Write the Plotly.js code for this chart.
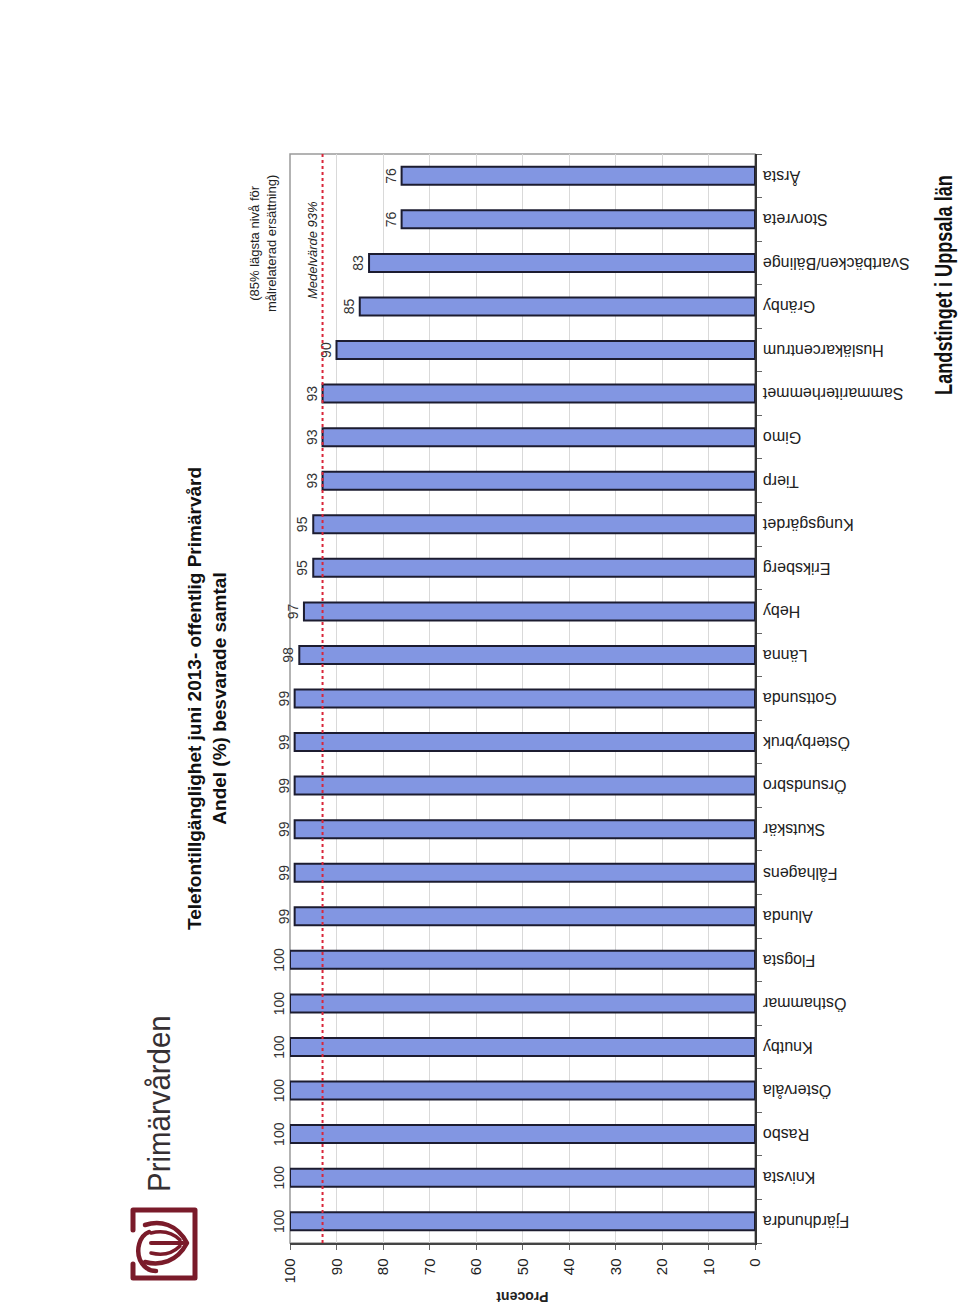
<!DOCTYPE html>
<html>
<head>
<meta charset="utf-8">
<script src="https://cdn.plot.ly/plotly-3.0.1.min.js"></script>
<style>
  html, body { margin:0; padding:0; background:#fff; width:960px; height:1308px; overflow:hidden; }
  #wrap { position:absolute; left:0; top:0; width:1308px; height:960px;
          transform-origin:0 0; transform:translateY(1308px) rotate(-90deg); }
  #chart { position:absolute; left:0; top:0; width:1308px; height:960px; }
  #logo { position:absolute; left:125px; top:1200px; width:80px; height:85px; }
  .brand { position:absolute; white-space:nowrap; line-height:1;
           font-family:'Liberation Sans', Arial, Helvetica, sans-serif; }
  #brandTop { left:116px; top:159px; font-size:32px; color:#363033;
              transform-origin:0 50%; transform:translateY(-50%) scaleX(0.92); }
  #brandBottom { left:1023px; top:944px; font-size:24px; font-weight:bold; color:#111;
                 transform-origin:50% 50%; transform:translate(-50%,-50%) scaleX(0.756); }
</style>
</head>
<body>
<div id="wrap">
  <div id="chart"></div>
  <div id="brandTop" class="brand"></div>
  <div id="brandBottom" class="brand"></div>
</div>
<svg id="logo" viewBox="0 0 80 85" xmlns="http://www.w3.org/2000/svg">
  <g fill="none" stroke="#7a1b2a" stroke-linecap="round" stroke-linejoin="round">
    <path d="M 8 30 L 8 10 L 70 10 L 70 78 L 8 78 L 8 64" stroke-width="5"/>
    <path d="M 20 25 C 35 20, 52 24, 62 43 C 52 62, 35 66, 20 62" stroke-width="4.5"/>
    <path d="M 26 43 L 58 43" stroke-width="4"/>
    <path d="M 26 33 C 38 30, 48 33, 55 40" stroke-width="3.5"/>
    <path d="M 26 53 C 38 56, 48 53, 55 46" stroke-width="3.5"/>
    <path d="M 24 32 C 14 36, 11 50, 15 60 C 19 68, 25 71, 31 71" stroke-width="4.5"/>
  </g>
</svg>
<script>
// ---- data ----
const categories = [
  'Fjärdhundra','Knivsta','Rasbo','Östervåla','Knutby','Östhammar','Flogsta',
  'Alunda','Fålhagens','Skutskär','Örsundsbro','Österbybruk','Gottsunda','Länna',
  'Heby','Eriksberg','Kungsgärdet','Tierp','Gimo','Sammariterhemmet',
  'Husläkarcentrum','Gränby','Svartbäcken/Bälinge','Storvreta','Årsta'
];
const values = [
  100,100,100,100,100,100,100,
  99,99,99,99,99,99,98,
  97,95,95,93,93,93,
  90,85,83,76,76
];
const meanValue = 93;
const valueTicks = [0,10,20,30,40,50,60,70,80,90,100];
const titleLines = ['Telefontillgänglighet juni 2013- offentlig Primärvård', 'Andel (%) besvarade samtal'];
const axisTitle = 'Procent';
const meanLabel = 'Medelvärde ' + meanValue + '%';
const noteLines = ['(85% lägsta nivå för', 'målrelaterad ersättning)'];
const brandTop = 'Primärvården';
const brandBottom = 'Landstinget i Uppsala län';

document.getElementById('brandTop').textContent = brandTop;
document.getElementById('brandBottom').textContent = brandBottom;

// ---- chart ----
const baseFont = 'Liberation Sans, Arial, Helvetica, sans-serif';

const trace = {
  type: 'bar',
  x: categories,
  y: values,
  text: values.map(String),
  textposition: 'outside',
  textangle: 0,
  constraintext: 'none',
  cliponaxis: false,
  textfont: { family: baseFont, size: 14, color: '#333' },
  marker: { color: '#8296e2', line: { color: '#1c1c30', width: 2 } },
  hoverinfo: 'skip'
};

const layout = {
  width: 1308, height: 960,
  margin: { l: 65, r: 154, t: 290, b: 205 },
  paper_bgcolor: 'rgba(0,0,0,0)', plot_bgcolor: '#fff',
  font: { family: baseFont, color: '#222' },
  bargap: 0.587,
  showlegend: false,
  title: {
    text: '<b>' + titleLines.join('<br>') + '</b>',
    font: { family: baseFont, size: 19, color: '#111' },
    x: 0.5, xref: 'paper', xanchor: 'center',
    y: 1 - 201 / 960, yref: 'container', yanchor: 'middle'
  },
  xaxis: {
    type: 'category',
    tickangle: -90,
    tickfont: { family: baseFont, size: 16, color: '#222' },
    ticks: 'outside', tickson: 'boundaries', ticklen: 5, tickcolor: '#666',
    showline: true, linecolor: '#333', linewidth: 1.5,
    showgrid: false, fixedrange: true
  },
  yaxis: {
    range: [0, 100],
    tickvals: valueTicks,
    ticktext: valueTicks.map(String),
    ticks: 'outside', ticklen: 5, tickcolor: '#666',
    tickfont: { family: baseFont, size: 15, color: '#222' },
    ticklabelstandoff: 6,
    showline: true, linecolor: '#444', linewidth: 1.5,
    showgrid: true, gridcolor: '#d9d9d9', gridwidth: 1,
    zeroline: false, fixedrange: true
  },
  shapes: [
    { type: 'rect', xref: 'paper', yref: 'paper', x0: 0, x1: 1, y0: 0, y1: 1,
      line: { color: '#9a9a9a', width: 1.5 }, layer: 'below' },
    { type: 'line', xref: 'paper', yref: 'y', x0: 0, x1: 1, y0: meanValue, y1: meanValue,
      line: { color: '#d9263a', width: 2, dash: 'dot' }, layer: 'above' }
  ],
  annotations: [
    { xref: 'paper', x: 0.912, xanchor: 'center', yref: 'y', y: meanValue, yanchor: 'bottom', yshift: 1,
      text: '<i>' + meanLabel + '</i>', showarrow: false,
      font: { family: baseFont, size: 13, color: '#222' } },
    { xref: 'paper', x: 0.9174, xanchor: 'center', yref: 'paper', y: 1.058, yanchor: 'middle',
      text: noteLines.join('<br>'), showarrow: false, align: 'center',
      font: { family: baseFont, size: 13, color: '#222' } },
    { xref: 'paper', x: -0.0505, xanchor: 'center', yref: 'paper', y: 0.5, yanchor: 'middle', textangle: -90,
      text: '<b>' + axisTitle + '</b>', showarrow: false,
      font: { family: baseFont, size: 14, color: '#222' } }
  ]
};

Plotly.newPlot('chart', [trace], layout, { staticPlot: true, displayModeBar: false });
</script>
</body>
</html>
